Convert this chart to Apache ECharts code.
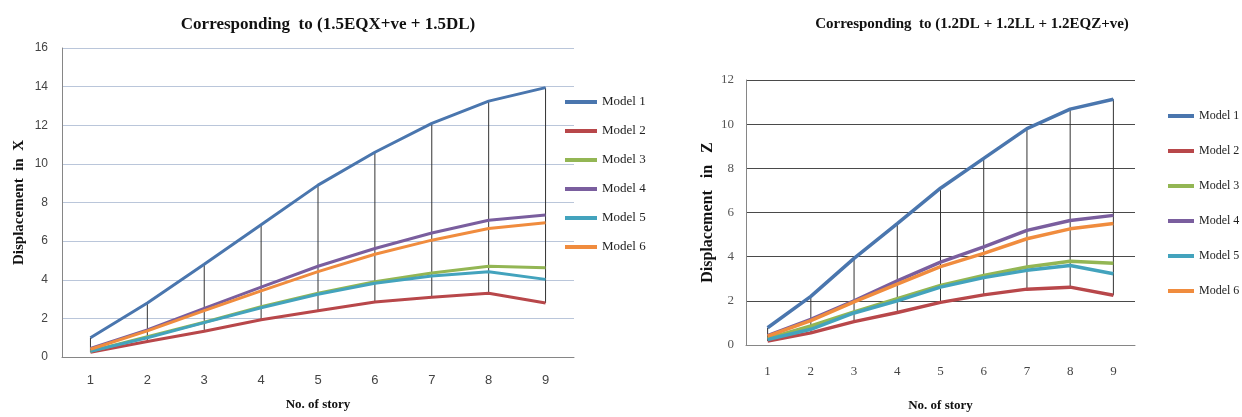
<!DOCTYPE html>
<html>
<head>
<meta charset="utf-8">
<script src="https://cdn.jsdelivr.net/npm/echarts@6/dist/echarts.min.js"></script>
<style>html,body{margin:0;padding:0;background:#fff}#c{width:1242px;height:417px}</style>
</head>
<body>
<div id="c"></div>
<script>
const stories = ['1','2','3','4','5','6','7','8','9'];
const modelNames = ['Model 1','Model 2','Model 3','Model 4','Model 5','Model 6'];
const modelColors = ['#4A76AE','#B8474A','#93B654','#7A5E9E','#43A3BD','#F08C3E'];

// Left chart: Displacement in X
const xModel1 = [1.0, 2.8, 4.8, 6.85, 8.9, 10.6, 12.1, 13.25, 13.95];
const xModel2 = [0.25, 0.8, 1.33, 1.93, 2.4, 2.85, 3.1, 3.3, 2.8];
const xModel3 = [0.3, 1.05, 1.8, 2.6, 3.3, 3.9, 4.35, 4.7, 4.62];
const xModel4 = [0.45, 1.4, 2.52, 3.62, 4.7, 5.62, 6.42, 7.08, 7.35];
const xModel5 = [0.3, 1.0, 1.78, 2.55, 3.25, 3.82, 4.2, 4.42, 4.02];
const xModel6 = [0.4, 1.35, 2.4, 3.42, 4.42, 5.32, 6.05, 6.65, 6.95];

// Right chart: Displacement in Z
const zModel1 = [0.78, 2.2, 3.92, 5.5, 7.1, 8.45, 9.8, 10.68, 11.13];
const zModel2 = [0.18, 0.55, 1.06, 1.47, 1.93, 2.27, 2.53, 2.62, 2.25];
const zModel3 = [0.3, 0.86, 1.5, 2.1, 2.7, 3.15, 3.53, 3.79, 3.7];
const zModel4 = [0.42, 1.16, 2.0, 2.9, 3.75, 4.44, 5.19, 5.64, 5.87];
const zModel5 = [0.25, 0.71, 1.45, 2.0, 2.62, 3.05, 3.38, 3.6, 3.23];
const zModel6 = [0.4, 1.1, 1.95, 2.76, 3.55, 4.15, 4.81, 5.26, 5.5];

const xSeries = [xModel1, xModel2, xModel3, xModel4, xModel5, xModel6];
const zSeries = [zModel1, zModel2, zModel3, zModel4, zModel5, zModel6];

function hiLo(list) {
  return stories.map((s, i) => {
    const vals = list.map(a => a[i]);
    return [i, Math.max.apply(null, vals), Math.min.apply(null, vals)];
  });
}

function hiLoSeries(list, idx) {
  return {
    type: 'custom',
    xAxisIndex: idx, yAxisIndex: idx,
    silent: true, z: 1,
    data: hiLo(list),
    encode: { x: 0, y: [1, 2] },
    renderItem: function (params, api) {
      const p1 = api.coord([api.value(0), api.value(1)]);
      const p2 = api.coord([api.value(0), api.value(2)]);
      return { type: 'line', shape: { x1: p1[0], y1: p1[1], x2: p2[0], y2: p2[1] },
               style: { stroke: '#333', lineWidth: 1 } };
    }
  };
}

function lineSeries(list, idx, w) {
  return list.map((arr, k) => ({
    name: modelNames[k], type: 'line', xAxisIndex: idx, yAxisIndex: idx,
    data: arr, symbol: 'none', smooth: false, z: 3,
    itemStyle: { color: modelColors[k] },
    lineStyle: { color: modelColors[k], width: w }
  }));
}

const serif = '"Liberation Serif", "Times New Roman", serif';
const sans = '"Liberation Sans", Arial, sans-serif';

const chart = echarts.init(document.getElementById('c'));
chart.setOption({
  animation: false,
  backgroundColor: '#fff',
  title: [
    { text: 'Corresponding  to (1.5EQX+ve + 1.5DL)', left: 323, top: 11, textAlign: 'center',
      textStyle: { fontFamily: serif, fontWeight: 'bold', fontSize: 17, color: '#111' } },
    { text: 'Corresponding  to (1.2DL + 1.2LL + 1.2EQZ+ve)', left: 967, top: 12, textAlign: 'center',
      textStyle: { fontFamily: serif, fontWeight: 'bold', fontSize: 15, color: '#111' } }
  ],
  legend: [
    { data: modelNames, orient: 'vertical', left: 560, top: 90, icon: 'rect',
      itemWidth: 32, itemHeight: 4, itemGap: 15,
      textStyle: { fontFamily: serif, fontSize: 13, color: '#222', lineHeight: 14 } },
    { data: modelNames, orient: 'vertical', left: 1163, top: 104, icon: 'rect',
      itemWidth: 26, itemHeight: 4, itemGap: 21,
      textStyle: { fontFamily: serif, fontSize: 12, color: '#222', lineHeight: 14 } }
  ],
  grid: [
    { left: 62, top: 48, width: 512, height: 309 },
    { left: 746, top: 80, width: 389, height: 269 }
  ],
  xAxis: [
    { type: 'category', gridIndex: 0, data: stories, boundaryGap: true,
      name: 'No. of story', nameLocation: 'middle', nameGap: 41,
      nameTextStyle: { fontFamily: serif, fontWeight: 'bold', fontSize: 13, color: '#111' },
      axisLine: { lineStyle: { color: '#868686', width: 1 } },
      axisTick: { show: false },
      axisLabel: { margin: 17, fontFamily: sans, fontSize: 13, color: '#444' } },
    { type: 'category', gridIndex: 1, data: stories, boundaryGap: true,
      name: 'No. of story', nameLocation: 'middle', nameGap: 54,
      nameTextStyle: { fontFamily: serif, fontWeight: 'bold', fontSize: 13, color: '#111' },
      axisLine: { lineStyle: { color: '#868686', width: 1 } },
      axisTick: { show: false },
      axisLabel: { margin: 20, fontFamily: serif, fontSize: 13, color: '#444' } }
  ],
  yAxis: [
    { type: 'value', gridIndex: 0, min: 0, max: 16, interval: 2,
      name: 'Displacement  in  X', nameLocation: 'middle', nameGap: 35,
      nameTextStyle: { fontFamily: serif, fontWeight: 'bold', fontSize: 15, color: '#111' },
      axisLine: { show: true, lineStyle: { color: '#868686', width: 1 } },
      axisTick: { show: false },
      splitLine: { lineStyle: { color: '#BAC6DA', width: 1 } },
      axisLabel: { margin: 14, fontFamily: sans, fontSize: 12, color: '#444' } },
    { type: 'value', gridIndex: 1, min: 0, max: 12, interval: 2,
      name: 'Displacement   in   Z', nameLocation: 'middle', nameGap: 30,
      nameTextStyle: { fontFamily: serif, fontWeight: 'bold', fontSize: 16, color: '#111' },
      axisLine: { show: true, lineStyle: { color: '#868686', width: 1 } },
      axisTick: { show: false },
      splitLine: { lineStyle: { color: '#4a4a4a', width: 1 } },
      axisLabel: { margin: 12, fontFamily: serif, fontSize: 13, color: '#555' } }
  ],
  series: [hiLoSeries(xSeries, 0), hiLoSeries(zSeries, 1)]
    .concat(lineSeries(xSeries, 0, 3))
    .concat(lineSeries(zSeries, 1, 3.5))
});
</script>
</body>
</html>
